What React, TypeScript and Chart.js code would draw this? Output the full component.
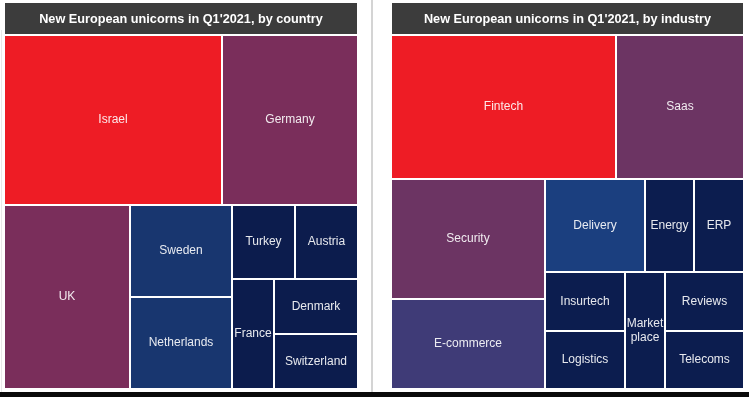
import React, { useEffect, useRef } from "react";
import { Chart, registerables } from "chart.js";

Chart.register(...registerables);

// ---------------- DATA ----------------
const countryTitle = "New European unicorns in Q1'2021, by country";
const countries = ["Israel", "Germany", "UK", "Sweden", "Netherlands", "Turkey", "Austria", "France", "Denmark", "Switzerland"];
const countryCounts = [8, 5, 5, 2, 2, 1, 1, 1, 1, 1];

const industryTitle = "New European unicorns in Q1'2021, by industry";
const industries = ["Fintech", "Saas", "Security", "E-commerce", "Delivery", "Energy", "ERP", "Insurtech", "Logistics", "Market place", "Reviews", "Telecoms"];
const industryCounts = [7, 4, 4, 3, 2, 1, 1, 1, 1, 1, 1, 1];

// ---------------- STYLES ----------------
const countryColors = ["#EE1C25", "#7A2E5B", "#7A2E5B", "#18366F", "#18366F", "#0C1C4D", "#0C1C4D", "#0C1C4D", "#0C1C4D", "#0C1C4D"];
const industryColors = ["#EE1C25", "#6C3463", "#6C3463", "#3F3B77", "#1B3F7F", "#0C1D4F", "#0C1D4F", "#0C1D4F", "#0C1D4F", "#0C1D4F", "#0C1D4F", "#0C1D4F"];

type Rect = { x: number; y: number; w: number; h: number };

const sum = (a: number[]) => a.reduce((s, v) => s + v, 0);
const aspect = (a: number, b: number) => Math.max(a / b, b / a);
const EPS = 1e-9;

function stripWorst(vals: number[], total: number, r: Rect): number {
  const s = sum(vals);
  if (r.w <= r.h) {
    const t = (s / total) * r.h;
    return Math.max(...vals.map((v) => aspect((v / s) * r.w, t)));
  }
  const t = (s / total) * r.w;
  return Math.max(...vals.map((v) => aspect((v / s) * r.h, t)));
}

function placeStrip(vals: number[], total: number, r: Rect): { rects: Rect[]; rest: Rect } {
  const s = sum(vals);
  const rects: Rect[] = [];
  if (r.w <= r.h) {
    const t = (s / total) * r.h;
    let x = r.x;
    for (const v of vals) {
      const w = (v / s) * r.w;
      rects.push({ x, y: r.y, w, h: t });
      x += w;
    }
    return { rects, rest: { x: r.x, y: r.y + t, w: r.w, h: r.h - t } };
  }
  const t = (s / total) * r.w;
  let y = r.y;
  for (const v of vals) {
    const h = (v / s) * r.h;
    rects.push({ x: r.x, y, w: t, h });
    y += h;
  }
  return { rects, rest: { x: r.x + t, y: r.y, w: r.w - t, h: r.h } };
}

// squarified strips with a one-step look-ahead
function treemap(values: number[], area: Rect): Rect[] {
  const out: Rect[] = [];
  let rect = { ...area };
  let i = 0;
  while (i < values.length) {
    const total = sum(values.slice(i));
    let row = [values[i]];
    let worst = stripWorst(row, total, rect);
    let j = i + 1;
    while (j < values.length) {
      const cand = [...row, values[j]];
      const cw = stripWorst(cand, total, rect);
      if (cw >= worst - EPS) break;
      const rest = placeStrip(row, total, rect).rest;
      const ahead = stripWorst([values[j]], total - sum(row), rest);
      if (cw >= ahead - EPS) break;
      row = cand;
      worst = cw;
      j++;
    }
    const placed = placeStrip(row, total, rect);
    out.push(...placed.rects);
    rect = placed.rest;
    i = j;
  }
  return out;
}

const FONT = "'Liberation Sans', Arial, sans-serif";

function makeChart(canvas: HTMLCanvasElement, title: string, labels: string[], values: number[], colors: string[]) {
  const rects = treemap(values, { x: 0, y: 0, w: 100, h: 100 });
  const centers = rects.map((r) => ({ x: r.x + r.w / 2, y: r.y + r.h / 2 }));

  const titleBg = {
    id: "titleBg",
    beforeDraw(chart: any) {
      const ctx = chart.ctx;
      const ca = chart.chartArea;
      ctx.save();
      ctx.fillStyle = "#3C3C3C";
      ctx.fillRect(ca.left + 1, 0, ca.right - ca.left - 2, ca.top - 1);
      ctx.restore();
    },
  };

  const cells = {
    id: "treemapCells",
    beforeDatasetsDraw(chart: any) {
      const ctx = chart.ctx;
      const xs = chart.scales.x;
      const ys = chart.scales.y;
      ctx.save();
      rects.forEach((r, k) => {
        const x0 = Math.round(xs.getPixelForValue(r.x));
        const x1 = Math.round(xs.getPixelForValue(r.x + r.w));
        const y0 = Math.round(ys.getPixelForValue(r.y));
        const y1 = Math.round(ys.getPixelForValue(r.y + r.h));
        ctx.fillStyle = colors[k];
        ctx.fillRect(x0 + 1, y0 + 1, x1 - x0 - 2, y1 - y0 - 2);
        // label
        ctx.font = `12px ${FONT}`;
        ctx.fillStyle = "rgba(255,255,255,0.9)";
        ctx.textAlign = "center";
        ctx.textBaseline = "middle";
        const text = labels[k];
        const maxW = x1 - x0 - 4;
        let lines = [text];
        if (ctx.measureText(text).width > maxW && text.includes(" ")) {
          lines = [];
          let cur = "";
          for (const w of text.split(" ")) {
            const t = cur ? cur + " " + w : w;
            if (cur && ctx.measureText(t).width > maxW) {
              lines.push(cur);
              cur = w;
            } else cur = t;
          }
          if (cur) lines.push(cur);
        }
        const lh = 14;
        const cx = (x0 + x1) / 2;
        const cy = (y0 + y1) / 2;
        lines.forEach((ln, li) => {
          ctx.fillText(ln, cx, cy + (li - (lines.length - 1) / 2) * lh);
        });
      });
      ctx.restore();
    },
  };

  return new Chart(canvas, {
    type: "scatter",
    data: {
      datasets: [{ data: centers, pointRadius: 0, pointHoverRadius: 0 }],
    },
    options: {
      animation: false,
      responsive: false,
      maintainAspectRatio: false,
      layout: { padding: 0 },
      events: [],
      scales: {
        x: { type: "linear", min: 0, max: 100, display: false },
        y: { type: "linear", min: 0, max: 100, reverse: true, display: false },
      },
      plugins: {
        legend: { display: false },
        tooltip: { enabled: false },
        title: {
          display: true,
          text: title,
          color: "#FFFFFF",
          font: { family: FONT, size: 12.7, weight: "bold", lineHeight: "14px" },
          padding: { top: 9, bottom: 9 },
        },
      },
    } as any,
    plugins: [titleBg, cells],
  });
}

export default function App() {
  const leftRef = useRef<HTMLCanvasElement>(null);
  const rightRef = useRef<HTMLCanvasElement>(null);

  useEffect(() => {
    const a = makeChart(leftRef.current!, countryTitle, countries, countryCounts, countryColors);
    const b = makeChart(rightRef.current!, industryTitle, industries, industryCounts, industryColors);
    return () => {
      a.destroy();
      b.destroy();
    };
  }, []);

  return (
    <div style={{ position: "fixed", left: 0, top: 0, width: 749, height: 397, background: "#FFFFFF", overflow: "hidden" }}>
      <div style={{ position: "absolute", left: 1, top: 30, width: 1, height: 362, background: "#E8E8E8" }} />
      <canvas ref={leftRef} width={354} height={386} style={{ position: "absolute", left: 4, top: 3, width: 354, height: 386 }} />
      <div style={{ position: "absolute", left: 371, top: 0, width: 2, height: 392, background: "#D4D4D4" }} />
      <canvas ref={rightRef} width={353} height={386} style={{ position: "absolute", left: 391, top: 3, width: 353, height: 386 }} />
      <div style={{ position: "absolute", left: 0, top: 392, width: 749, height: 5, background: "#0A0A0A" }} />
    </div>
  );
}
